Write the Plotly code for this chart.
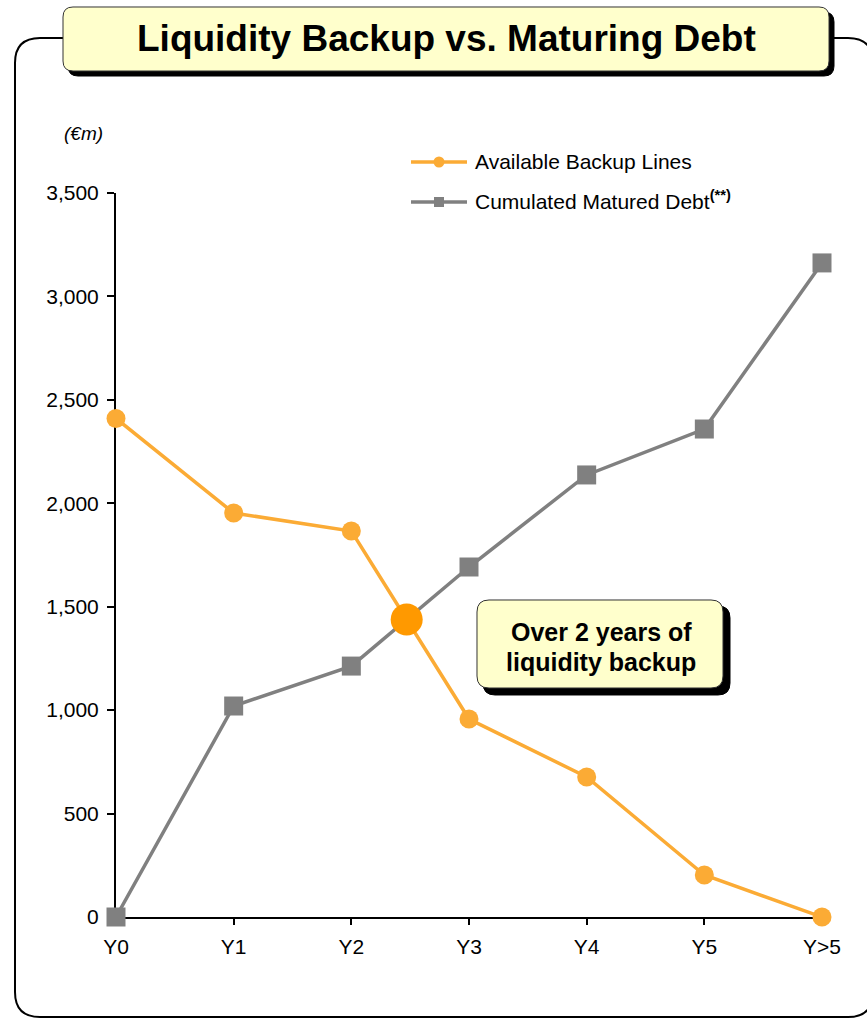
import plotly.graph_objects as go

# Chart data
periods = ["Y0", "Y1", "Y2", "Y3", "Y4", "Y5", "Y>5"]
backup_lines = [2410, 1953, 1866, 957, 677, 203, 0]
matured_debt = [0, 1020, 1213, 1692, 2137, 2359, 3162]
y_ticks = [0, 500, 1000, 1500, 2000, 2500, 3000, 3500]

ORANGE = "#FBAB35"
DOT = "#FF9900"
GREY = "#808080"
FONT = "Liberation Sans, Arial, sans-serif"

W, H = 867, 1018
L, R, T, B = 116, 45, 193, 101
PW, PH = W - L - R, H - T - B


def px(x):
    return (x - L) / PW


def py(y):
    return (H - B - y) / PH


def rounded(x0, y0, x1, y1, r):
    """SVG path (paper coords) for a rounded rectangle given in pixels."""
    pts = [
        ("M", (x0 + r, y0)), ("L", (x1 - r, y0)), ("Q", (x1, y0), (x1, y0 + r)),
        ("L", (x1, y1 - r)), ("Q", (x1, y1), (x1 - r, y1)),
        ("L", (x0 + r, y1)), ("Q", (x0, y1), (x0, y1 - r)),
        ("L", (x0, y0 + r)), ("Q", (x0, y0), (x0 + r, y0)),
    ]
    out = []
    for seg in pts:
        cmd, coords = seg[0], seg[1:]
        out.append(cmd + " ".join(f"{px(a):.5f},{py(b):.5f}" for a, b in coords))
    return " ".join(out) + " Z"


# Crossover point of the two series (between Y2 and Y3)
xs = list(range(len(periods)))
cross_x, cross_y = None, None
for i in range(len(xs) - 1):
    d0 = backup_lines[i] - matured_debt[i]
    d1 = backup_lines[i + 1] - matured_debt[i + 1]
    if d0 > 0 >= d1:
        t = d0 / (d0 - d1)
        cross_x = xs[i] + t
        cross_y = matured_debt[i] + t * (matured_debt[i + 1] - matured_debt[i])
        break

fig = go.Figure()
fig.add_trace(go.Scatter(
    x=xs, y=matured_debt, mode="lines+markers", name="Cumulated Matured Debt",
    line=dict(color=GREY, width=3.5),
    marker=dict(symbol="square", size=19, color=GREY),
    cliponaxis=False, showlegend=False,
))
fig.add_trace(go.Scatter(
    x=xs, y=backup_lines, mode="lines+markers", name="Available Backup Lines",
    line=dict(color=ORANGE, width=3.5),
    marker=dict(symbol="circle", size=19, color=ORANGE),
    cliponaxis=False, showlegend=False,
))
fig.add_trace(go.Scatter(
    x=[cross_x], y=[cross_y], mode="markers",
    marker=dict(symbol="circle", size=32, color=DOT),
    cliponaxis=False, showlegend=False,
))

shapes = []
# Outer rounded frame
shapes.append(dict(type="path", xref="paper", yref="paper",
                   path=rounded(15, 38, 873, 1017, 25),
                   line=dict(color="black", width=2), fillcolor="rgba(0,0,0,0)", layer="below"))
# Title box with drop shadow
shapes.append(dict(type="path", xref="paper", yref="paper",
                   path=rounded(68, 12, 834, 76, 10),
                   line=dict(color="black", width=1), fillcolor="black"))
shapes.append(dict(type="path", xref="paper", yref="paper",
                   path=rounded(63, 7, 829, 71, 10),
                   line=dict(color="#333333", width=1), fillcolor="#FFFFCC"))
# Callout box with drop shadow
shapes.append(dict(type="path", xref="paper", yref="paper",
                   path=rounded(483, 606, 730, 695, 12),
                   line=dict(color="black", width=1), fillcolor="black"))
shapes.append(dict(type="path", xref="paper", yref="paper",
                   path=rounded(477, 600, 723, 688, 12),
                   line=dict(color="#333333", width=1), fillcolor="#FFFFCC"))
# Legend keys
for yk, col in [(162, ORANGE), (202, GREY)]:
    shapes.append(dict(type="line", xref="paper", yref="paper",
                       x0=px(411), x1=px(467), y0=py(yk), y1=py(yk),
                       line=dict(color=col, width=3.5)))
shapes.append(dict(type="circle", xref="paper", yref="paper",
                   x0=px(433.5), x1=px(444.5), y0=py(167.5), y1=py(156.5),
                   line=dict(color=ORANGE, width=0), fillcolor=ORANGE))
shapes.append(dict(type="rect", xref="paper", yref="paper",
                   x0=px(434), x1=px(444), y0=py(207), y1=py(197),
                   line=dict(color=GREY, width=0), fillcolor=GREY))


def note(text, x, y, size, anchor="center", **kw):
    return dict(text=text, xref="paper", yref="paper", x=px(x), y=py(y),
                showarrow=False, xanchor=anchor, yanchor="middle",
                font=dict(family=FONT, size=size, color="black"), **kw)


annotations = [
    note("<b>Liquidity Backup vs. Maturing Debt</b>", 446, 39, 37),
    note("<b>Over 2 years of</b>", 601, 632, 25),
    note("<b>liquidity backup</b>", 601, 662, 25),
    note("<i>(€m)</i>", 62, 133, 19, anchor="left"),
    note("Available Backup Lines", 473, 162, 21, anchor="left"),
    note("Cumulated Matured Debt<sup><b>(**)</b></sup>", 473, 200, 21, anchor="left"),
]

fig.update_layout(
    width=W, height=H, autosize=False,
    margin=dict(l=L, r=R, t=T, b=B, pad=0),
    paper_bgcolor="white", plot_bgcolor="white",
    font=dict(family=FONT, size=21, color="black"),
    shapes=shapes, annotations=annotations,
    xaxis=dict(
        range=[0, len(periods) - 1], tickmode="array", tickvals=xs, ticktext=periods,
        showgrid=False, zeroline=False, showline=True, linecolor="black", linewidth=2,
        ticks="outside", ticklen=6, tickwidth=1.5, tickcolor="black",
        tickfont=dict(family=FONT, size=21), ticklabelstandoff=4,
        layer="below traces",
    ),
    yaxis=dict(
        range=[0, 3500], tickmode="array", tickvals=y_ticks,
        ticktext=[f"{v:,}" for v in y_ticks],
        showgrid=False, zeroline=False, showline=True, linecolor="black", linewidth=2,
        ticks="outside", ticklen=7, tickwidth=1.5, tickcolor="black",
        tickfont=dict(family=FONT, size=21), ticklabelstandoff=4,
        layer="below traces",
    ),
)

fig.write_html("out.html")
